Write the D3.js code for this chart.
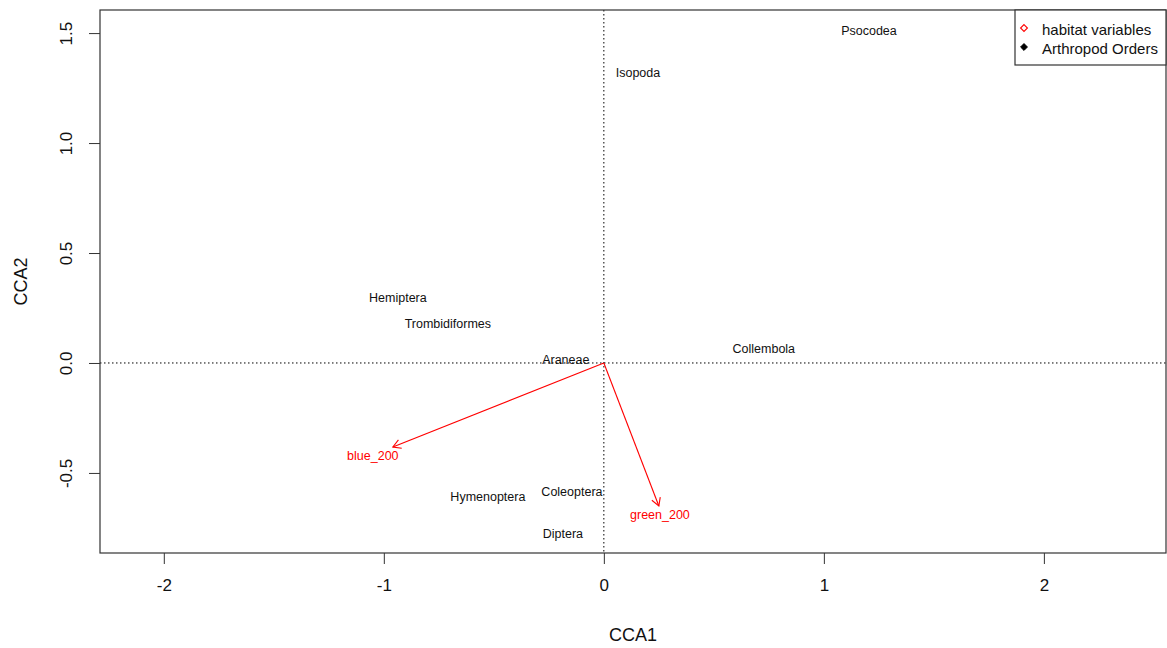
<!DOCTYPE html>
<html>
<head>
<meta charset="utf-8">
<script src="https://cdn.jsdelivr.net/npm/d3@7"></script>
<style>
  html, body { margin: 0; padding: 0; background: #fff; }
  svg { display: block; font-family: "Liberation Sans", Arial, sans-serif; }
</style>
</head>
<body>
<svg id="chart" width="1167" height="648"></svg>
<script>
// Species (arthropod order) scores on the first two CCA axes
const orders = ["Psocodea", "Isopoda", "Hemiptera", "Trombidiformes", "Araneae",
                "Collembola", "Hymenoptera", "Coleoptera", "Diptera"];
const orderCCA1 = [1.205, 0.155, -0.936, -0.709, -0.173, 0.727, -0.527, -0.145, -0.186];
const orderCCA2 = [1.509, 1.318, 0.295, 0.177, 0.014, 0.064, -0.609, -0.586, -0.777];

// Biplot arrows for the habitat variables, with their label positions
const habitatVars = ["blue_200", "green_200"];
const varCCA1 = [-0.959, 0.250];
const varCCA2 = [-0.382, -0.650];
const varLabelCCA1 = [-1.050, 0.255];
const varLabelCCA2 = [-0.423, -0.690];

const xTicks = [-2, -1, 0, 1, 2];
const yTicks = [-0.5, 0.0, 0.5, 1.0, 1.5];
const legendLabels = ["habitat variables", "Arthropod Orders"];

const svg = d3.select("#chart");
const plotL = 100, plotR = 1166, plotT = 10, plotB = 553;

const x = d3.scaleLinear().domain([-2.29, 2.555]).range([plotL, plotR]);
const y = d3.scaleLinear().domain([-0.864, 1.605]).range([plotB, plotT]);

const axisColor = "#333";
// Plain hyphen for negative tick labels
const hyphen = f => d => f(d).replace("\u2212", "-");

// Bottom axis
const xAxis = svg.append("g")
  .attr("transform", `translate(0,${plotB})`)
  .call(d3.axisBottom(x).tickValues(xTicks).tickSize(11).tickPadding(15)
        .tickFormat(hyphen(d3.format("d"))));
xAxis.select(".domain").remove();
xAxis.selectAll("line").attr("stroke", axisColor);
xAxis.selectAll("text").attr("font-size", 17).attr("fill", "#111")
  .attr("font-family", "Liberation Sans, Arial, sans-serif");

// Left axis, labels parallel to the axis
const yAxis = svg.append("g")
  .attr("transform", `translate(${plotL},0)`)
  .call(d3.axisLeft(y).tickValues(yTicks).tickSize(11)
        .tickFormat(hyphen(d3.format(".1f"))));
yAxis.select(".domain").remove();
yAxis.selectAll("line").attr("stroke", axisColor);
yAxis.selectAll("text")
  .attr("font-size", 17).attr("fill", "#111")
  .attr("font-family", "Liberation Sans, Arial, sans-serif")
  .attr("x", null).attr("dy", null)
  .attr("text-anchor", "middle")
  .attr("dominant-baseline", "central")
  .attr("transform", "translate(-34,0) rotate(-90)");

// Axis titles
svg.append("text").attr("x", (plotL + plotR) / 2).attr("y", 635)
  .attr("text-anchor", "middle").attr("dominant-baseline", "central")
  .attr("font-size", 18).attr("fill", "#111").text("CCA1");
svg.append("text")
  .attr("transform", `translate(21,${(plotT + plotB) / 2}) rotate(-90)`)
  .attr("text-anchor", "middle").attr("dominant-baseline", "central")
  .attr("font-size", 18).attr("fill", "#111").text("CCA2");

// Arthropod order labels
svg.append("g").selectAll("text").data(orders).join("text")
  .attr("x", (d, i) => x(orderCCA1[i]))
  .attr("y", (d, i) => y(orderCCA2[i]))
  .attr("text-anchor", "middle").attr("dominant-baseline", "central")
  .attr("font-size", 12.5).attr("fill", "#111")
  .text(d => d);

// Dotted reference lines through the origin
svg.append("line").attr("x1", plotL).attr("x2", plotR).attr("y1", y(0)).attr("y2", y(0))
  .attr("stroke", "#000").attr("stroke-width", 1).attr("stroke-dasharray", "1.5,2.5");
svg.append("line").attr("x1", x(0)).attr("x2", x(0)).attr("y1", plotT).attr("y2", plotB)
  .attr("stroke", "#000").attr("stroke-width", 1).attr("stroke-dasharray", "1.5,2.5");

// Habitat variable arrows with open heads
const arrows = svg.append("g");
habitatVars.forEach((name, i) => {
  const x0 = x(0), y0 = y(0);
  const x1 = x(varCCA1[i]), y1 = y(varCCA2[i]);
  const ang = Math.atan2(y1 - y0, x1 - x0);
  const len = 9, spread = Math.PI / 6;
  arrows.append("line").attr("x1", x0).attr("y1", y0).attr("x2", x1).attr("y2", y1)
    .attr("stroke", "red").attr("stroke-width", 1.1);
  const p1 = [x1 - len * Math.cos(ang - spread), y1 - len * Math.sin(ang - spread)];
  const p2 = [x1 - len * Math.cos(ang + spread), y1 - len * Math.sin(ang + spread)];
  arrows.append("path")
    .attr("d", `M${p1[0]},${p1[1]}L${x1},${y1}L${p2[0]},${p2[1]}`)
    .attr("fill", "none").attr("stroke", "red").attr("stroke-width", 1.1);
  arrows.append("text")
    .attr("x", x(varLabelCCA1[i])).attr("y", y(varLabelCCA2[i]))
    .attr("text-anchor", "middle").attr("dominant-baseline", "central")
    .attr("font-size", 12.5).attr("fill", "red").text(name);
});

// Plot frame
svg.append("rect").attr("x", plotL).attr("y", plotT)
  .attr("width", plotR - plotL).attr("height", plotB - plotT)
  .attr("fill", "none").attr("stroke", axisColor).attr("stroke-width", 1.2);

// Legend
const lg = svg.append("g");
lg.append("rect").attr("x", 1015).attr("y", 10).attr("width", 151).attr("height", 55)
  .attr("fill", "#fff").attr("stroke", axisColor).attr("stroke-width", 1.2);
const diamond = d3.symbol().type(d3.symbolDiamond2).size(30);
lg.append("path").attr("d", diamond()).attr("transform", "translate(1024,28)")
  .attr("fill", "#fff").attr("stroke", "red").attr("stroke-width", 1.1);
lg.append("path").attr("d", diamond()).attr("transform", "translate(1024,47)")
  .attr("fill", "#000").attr("stroke", "#000").attr("stroke-width", 1);
lg.selectAll("text.leg").data(legendLabels).join("text")
  .attr("class", "leg")
  .attr("x", 1042).attr("y", (d, i) => 29 + i * 19)
  .attr("dominant-baseline", "central")
  .attr("font-size", 15).attr("fill", "#111")
  .text(d => d);
</script>
</body>
</html>
